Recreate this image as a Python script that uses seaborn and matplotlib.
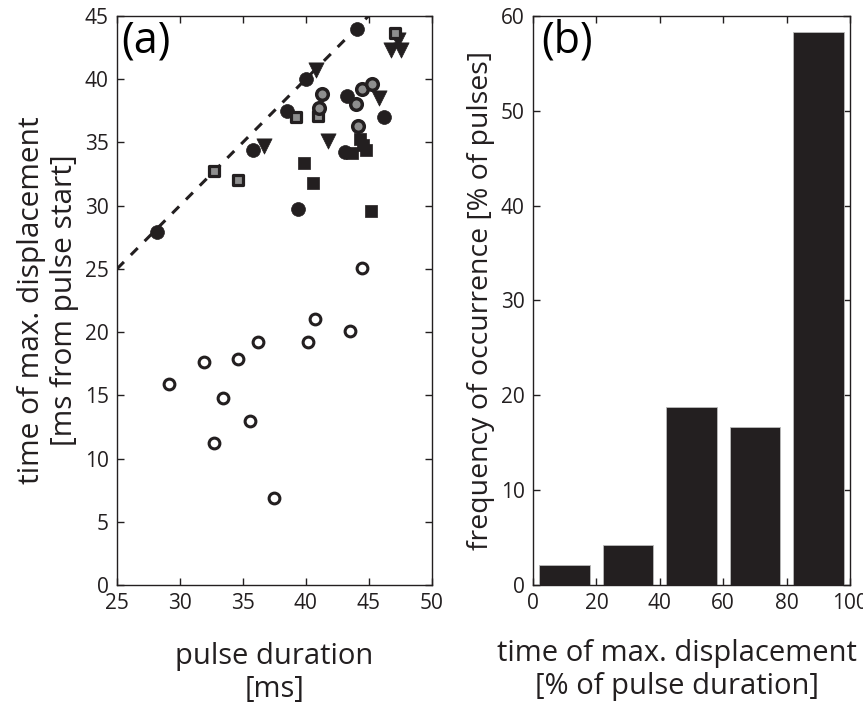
import matplotlib
matplotlib.use("Agg")
import matplotlib.pyplot as plt
import pandas as pd
import seaborn as sns

# panel (a): pulse duration [ms] vs. time of max. displacement [ms]
open_circle_x = [29.1, 31.9, 34.6, 36.2, 33.4, 35.6, 32.7, 37.5, 40.2, 40.7, 43.5, 44.5]
open_circle_y = [15.9, 17.6, 17.9, 19.2, 14.8, 13.0, 11.2, 6.9, 19.2, 21.0, 20.1, 25.1]

filled_circle_x = [44.1, 40.0, 38.5, 35.8, 43.3, 46.2, 43.1, 39.4, 28.2]
filled_circle_y = [44.0, 40.0, 37.5, 34.4, 38.7, 37.0, 34.2, 29.7, 27.9]

triangle_x = [40.8, 36.7, 41.8, 45.8, 46.8, 47.6, 47.3]
triangle_y = [40.7, 34.7, 35.1, 38.5, 42.3, 42.3, 43.1]

gray_square_x = [47.1, 39.2, 41.0, 32.7, 34.6]
gray_square_y = [43.65, 37.0, 37.05, 32.7, 32.0]

filled_square_x = [39.9, 40.6, 43.7, 44.8, 44.3, 44.55, 45.2]
filled_square_y = [33.4, 31.8, 34.15, 34.4, 35.3, 34.8, 29.6]

gray_circle_x = [41.3, 41.05, 44.5, 45.3, 44.0, 44.15]
gray_circle_y = [38.8, 37.7, 39.2, 39.6, 38.0, 36.3]

# panel (b): histogram of time of max. displacement [% of pulse duration]
bin_centers = [10, 30, 50, 70, 90]
freq_pct = [2.08, 4.17, 18.75, 16.67, 58.33]

dark = "#231f20"
gray = "#8e8e8e"

sns.set_theme(style="ticks")
plt.rcParams["font.family"] = ["Open Sans", "DejaVu Sans"]
plt.rcParams.update({
    "xtick.direction": "in",
    "ytick.direction": "in",
    "xtick.top": True,
    "ytick.right": True,
    "xtick.major.size": 5,
    "ytick.major.size": 5,
    "axes.linewidth": 1.0,
    "axes.edgecolor": dark,
})

fig = plt.figure(figsize=(8.63, 7.14), dpi=100)
ax1 = fig.add_axes([0.1356, 0.1807, 0.3644, 0.797])
ax2 = fig.add_axes([0.6176, 0.1807, 0.3673, 0.797])

# dashed identity line
ax1.plot([25, 45], [25, 45], ls=(0, (3.2, 3.2)), color=dark, lw=2.2, zorder=1)

groups = [
    (open_circle_x, open_circle_y, "o", "white", dark, 60, 2.2),
    (filled_circle_x, filled_circle_y, "o", dark, dark, 100, 0.5),
    (triangle_x, triangle_y, "v", dark, dark, 120, 0.5),
    (filled_square_x, filled_square_y, "s", dark, dark, 80, 0.5),
    (gray_square_x, gray_square_y, "s", gray, dark, 45, 2.3),
    (gray_circle_x, gray_circle_y, "o", gray, dark, 70, 2.5),
]
for xs, ys, mk, fc, ec, size, lw in groups:
    sns.scatterplot(x=xs, y=ys, marker=mk, color=fc, edgecolor=ec,
                    s=size, linewidth=lw, ax=ax1, zorder=3)

ax1.set_xlim(25, 50)
ax1.set_ylim(0, 45)
ax1.set_xticks(range(25, 51, 5))
ax1.set_yticks(range(0, 46, 5))
ax1.set_xlabel("pulse duration\n[ms]", fontsize=21, labelpad=20, color=dark)
ax1.set_ylabel("time of max. displacement\n[ms from pulse start]", fontsize=21.5,
               labelpad=4, color=dark)
ax1.text(0.015, 0.995, "(a)", transform=ax1.transAxes, fontsize=31,
         va="top", ha="left", color="black")

df = pd.DataFrame({"center": bin_centers, "freq": freq_pct})
sns.barplot(data=df, x="center", y="freq", native_scale=True, width=0.8,
            color=dark, saturation=1, edgecolor="#bbbbbb", linewidth=0.6, ax=ax2)
ax2.set_xlim(0, 100)
ax2.set_ylim(0, 60)
ax2.set_xticks(range(0, 101, 20))
ax2.set_yticks(range(0, 61, 10))
ax2.set_xlabel("time of max. displacement\n[% of pulse duration]", fontsize=21,
               labelpad=20, color=dark)
ax2.xaxis.set_label_coords(0.455, -0.095, transform=ax2.transAxes)
ax2.xaxis.label.set_va("top")
ax2.set_ylabel("frequency of occurrence [% of pulses]", fontsize=20.5, labelpad=4,
               color=dark)
ax2.text(0.025, 0.995, "(b)", transform=ax2.transAxes, fontsize=31,
         va="top", ha="left", color="black")

for ax in (ax1, ax2):
    ax.tick_params(labelsize=15, colors=dark, width=1.0, pad=6)
    for sp in ax.spines.values():
        sp.set_visible(True)

fig.savefig("out.png", dpi=100)
